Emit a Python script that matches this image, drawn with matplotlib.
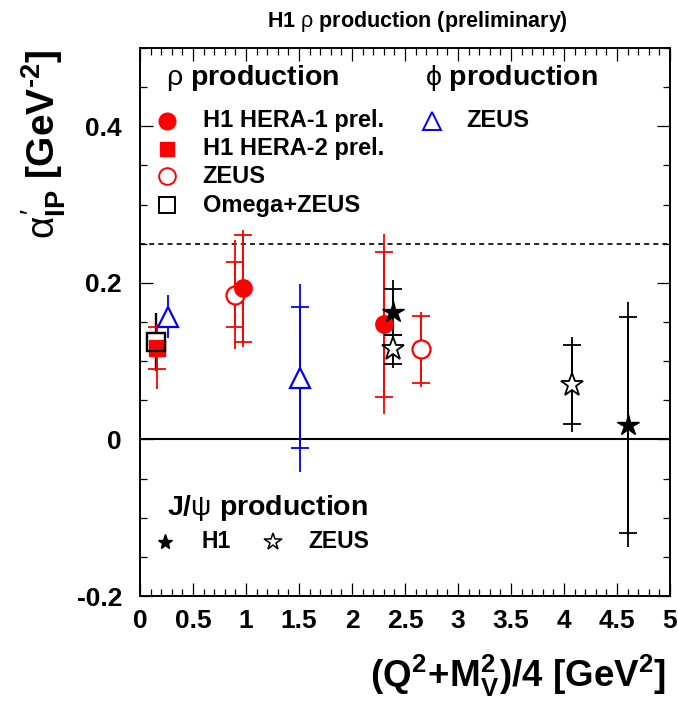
import matplotlib
matplotlib.use('Agg')
import matplotlib.pyplot as plt
from matplotlib.ticker import MultipleLocator, FixedLocator
import numpy as np

plt.rcParams['font.family'] = ['Liberation Sans', 'DejaVu Sans']
plt.rcParams['mathtext.fontset'] = 'custom'
plt.rcParams['mathtext.rm'] = 'Liberation Sans'
plt.rcParams['mathtext.it'] = 'Liberation Sans'
plt.rcParams['mathtext.bf'] = 'Liberation Sans:bold'

# ---- data ----
# rho production, H1 HERA-1 prel. (filled circles)
h1a_x = [0.975, 2.30]
h1a_y = [0.193, 0.147]
h1a_stat = [0.068, 0.093]
h1a_tot = [0.075, 0.115]
# rho production, H1 HERA-2 prel. (filled square)
h1b_x = [0.16]
h1b_y = [0.117]
h1b_stat = [0.027]
h1b_tot_lo = [0.053]
h1b_tot_hi = [0.030]
# rho production, ZEUS (open circles)
zr_x = [0.90, 2.65]
zr_y = [0.185, 0.115]
zr_stat = [0.042, 0.043]
zr_tot = [0.070, 0.048]
# rho production, Omega+ZEUS (open square)
om_x = [0.155]
om_y = [0.125]
om_tot = [0.037]
# phi production, ZEUS (open triangles)
zphi_x = [0.26, 1.51]
zphi_y = [0.157, 0.079]
zphi_stat = [0.0, 0.090]
zphi_tot = [0.027, 0.120]
# J/psi production, H1 (filled stars)
jh1_x = [2.39, 4.60]
jh1_y = [0.163, 0.019]
jh1_stat = [0.029, 0.138]
jh1_tot = [0.041, 0.157]
# J/psi production, ZEUS (open stars)
jz_x = [2.39, 4.08]
jz_y = [0.115, 0.070]
jz_stat = [0.019, 0.050]
jz_tot = [0.024, 0.061]

RED = '#ff0000'
BLUE = '#0000ff'
LW = 1.3
CAP = 6.5

fig = plt.figure(figsize=(6.78, 7.02), dpi=100)
ax = fig.add_axes([140/678, 1-596/702, 530/678, 548/702])

def bars(x, y, stat, lo, hi, color):
    # total error as plain line, stat error marked with ticks
    ax.errorbar(x, y, yerr=[lo, hi], fmt='none', ecolor=color, elinewidth=LW, capsize=0, zorder=2)
    xs = [a for a, s in zip(x, stat) if s > 0]
    ys = [b for b, s in zip(y, stat) if s > 0]
    ss = [s for s in stat if s > 0]
    if xs:
        ax.errorbar(xs, ys, yerr=ss, fmt='none', ecolor=color, elinewidth=LW,
                    capsize=CAP, capthick=LW, zorder=2)

ax.axhline(0, color='black', lw=1.5, zorder=1)
ax.axhline(0.25, color='black', lw=1.2, ls=(0, (3, 2.5)), zorder=1)

# Omega+ZEUS under the H1 square
ax.errorbar(om_x, om_y, yerr=om_tot, fmt='none', ecolor='black', elinewidth=LW + 0.4, capsize=0, zorder=2)
ax.plot(om_x, om_y, 's', ms=13, mfc='white', mec='black', mew=1.6, zorder=3)

bars(h1b_x, h1b_y, h1b_stat, h1b_tot_lo, h1b_tot_hi, RED)
ax.plot(h1b_x, h1b_y, 's', ms=12, color=RED, zorder=4)
ax.plot(om_x, om_y, 's', ms=13, mfc='none', mec='black', mew=1.6, zorder=5)

bars(zphi_x, zphi_y, zphi_stat, zphi_tot, zphi_tot, BLUE)
ax.plot(zphi_x, zphi_y, '^', ms=14, mfc='white', mec=BLUE, mew=1.6, zorder=4)

bars(zr_x, zr_y, zr_stat, zr_tot, zr_tot, RED)
ax.plot(zr_x, zr_y, 'o', ms=13, mfc='white', mec=RED, mew=1.6, zorder=4)

bars(h1a_x, h1a_y, h1a_stat, h1a_tot, h1a_tot, RED)
ax.plot(h1a_x, h1a_y, 'o', ms=12.5, color=RED, zorder=5)

bars(jh1_x, jh1_y, jh1_stat, jh1_tot, jh1_tot, 'black')
ax.plot(jh1_x, jh1_y, '*', ms=16, color='black', zorder=5)

bars(jz_x, jz_y, jz_stat, jz_tot, jz_tot, 'black')
ax.plot(jz_x, jz_y, '*', ms=17, mfc='white', mec='black', mew=1.3, zorder=5)

ax.set_xlim(0, 5)
ax.set_ylim(-0.2, 0.5)
ax.xaxis.set_minor_locator(MultipleLocator(0.1))
ax.yaxis.set_minor_locator(MultipleLocator(0.05))
ax.set_xticks([0, 0.5, 1, 1.5, 2, 2.5, 3, 3.5, 4, 4.5, 5])
ax.set_xticklabels(['0', '0.5', '1', '1.5', '2', '2.5', '3', '3.5', '4', '4.5', '5'])
ax.set_yticks([-0.2, 0, 0.2, 0.4])
ax.set_yticklabels(['-0.2', '0', '0.2', '0.4'])
ax.tick_params(which='both', direction='in', top=True, right=True, width=0.9)
ax.tick_params(which='major', length=9.5)
ax.tick_params(which='minor', length=4.8)
ax.tick_params(axis='x', labelsize=19, pad=9)
ax.tick_params(axis='y', labelsize=19, pad=13)
for lab in ax.get_xticklabels() + ax.get_yticklabels():
    lab.set_fontweight('bold')
for sp in ax.spines.values():
    sp.set_linewidth(1.4)

# titles
fig.text(417/678, 1-21/702, r'H1 $\rho$ production (preliminary)', ha='center', va='center',
         fontsize=15.5, fontweight='bold')
fig.text(666/678, 1-676/702, r'$\mathbf{(Q^{2}\!+\!M_{V}^{2})/4\ [GeV^{2}]}$', ha='right',
         va='center', fontsize=26.5)
fig.text(44/678, 1-50/702, '$\\alpha^{\\prime}_{\\mathbf{IP}}\\ \\mathbf{[GeV^{\u20102}]}$', ha='center',
         va='top', rotation=90, fontsize=28)

# legend, drawn by hand in axes coordinates
T = ax.transAxes
ax.text(0.050, 0.9453, r'$\rho$ production', transform=T, fontsize=20.5, fontweight='bold', va='center')
ax.text(0.5504 - 0.012, 0.9453, r'$\phi$ production', transform=T, fontsize=20.5, fontweight='bold', va='center')
rows = [0.8673, 0.8157, 0.7664, 0.7135]
names = ['H1 HERA-1 prel.', 'H1 HERA-2 prel.', 'ZEUS', 'Omega+ZEUS']
styles = [dict(marker='o', ms=12, color=RED),
          dict(marker='s', ms=10.5, color=RED),
          dict(marker='o', ms=12, mfc='white', mec=RED, mew=1.4),
          dict(marker='s', ms=11, mfc='white', mec='black', mew=1.4)]
for ry, nm, st in zip(rows, names, styles):
    ax.plot([0.0504], [ry], transform=T, clip_on=False, ls='none', **st)
    ax.text(0.1183, ry, nm, transform=T, fontsize=17, fontweight='bold', va='center')
ax.plot([0.5504], [rows[0]], transform=T, clip_on=False, ls='none', marker='^', ms=13,
        mfc='white', mec=BLUE, mew=1.4)
ax.text(0.6164, rows[0], 'ZEUS', transform=T, fontsize=17, fontweight='bold', va='center')

ax.text(0.0504, 0.1606, r'J/$\psi$ production', transform=T, fontsize=20.5, fontweight='bold', va='center')
ax.plot([0.0472], [0.0991], transform=T, clip_on=False, ls='none', marker='*', ms=11, color='black')
ax.text(0.1164, 0.0991, 'H1', transform=T, fontsize=16.5, fontweight='bold', va='center')
ax.plot([0.2515], [0.0991], transform=T, clip_on=False, ls='none', marker='*', ms=13,
        mfc='white', mec='black', mew=1.1)
ax.text(0.3175, 0.0991, 'ZEUS', transform=T, fontsize=16.5, fontweight='bold', va='center')

fig.savefig('out.png', dpi=100, facecolor='white')
